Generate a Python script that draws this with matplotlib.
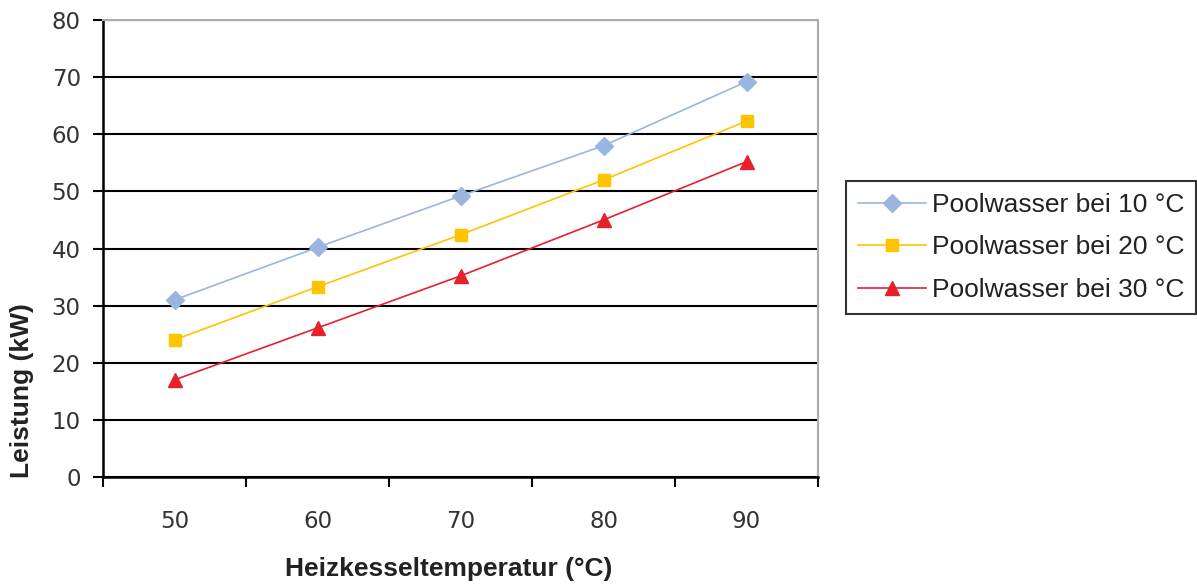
import matplotlib.pyplot as plt
import numpy as np

# data
temperatures = ["50", "60", "70", "80", "90"]
pool_10 = [31.0, 40.2, 49.2, 58.0, 69.2]
pool_20 = [24.0, 33.3, 42.4, 52.0, 62.3]
pool_30 = [17.0, 26.1, 35.2, 45.0, 55.2]
series_labels = ["Poolwasser bei 10 °C", "Poolwasser bei 20 °C", "Poolwasser bei 30 °C"]

plt.rcParams['font.family'] = ['Liberation Sans', 'DejaVu Sans']

fig = plt.figure(figsize=(11.97, 5.85), dpi=100)
ax = fig.add_axes([103 / 1197, 1 - 477 / 585, (818 - 103) / 1197, (477 - 20) / 585])

pos = np.arange(len(temperatures))
ax.plot(pos, pool_10, color='#9AB5DF', lw=1.2, marker='D', ms=9, label=series_labels[0])
ax.plot(pos, pool_20, color='#FFC300', lw=1.2, marker='s', ms=9, label=series_labels[1])
ax.plot(pos, pool_30, color='#E8202A', lw=1.2, marker='^', ms=10, label=series_labels[2])

ax.set_xlim(-0.5, len(temperatures) - 0.5)
ax.set_ylim(0, 80)

# y axis: gridlines in black at every 10
ax.set_yticks(np.arange(0, 81, 10))
ax.yaxis.grid(True, color='black', lw=1.5)
ax.set_axisbelow(True)

# x axis: tick marks between categories, labels centred on categories
ax.set_xticks(np.arange(-0.5, len(temperatures), 1.0))
ax.set_xticklabels([])
ax.set_xticks(pos, minor=True)
ax.set_xticklabels(temperatures, minor=True)
ax.tick_params(axis='x', which='minor', length=0, pad=24)
ax.tick_params(axis='x', which='major', direction='out', length=7, width=1.5)
ax.tick_params(axis='y', direction='out', length=7, width=1.5, pad=9)
ax.tick_params(which='both', labelsize=16.5, labelcolor='#333333')
for lbl in ax.get_xticklabels(minor=True) + ax.get_yticklabels():
    lbl.set_family(['DejaVu Sans'])

for side in ['left', 'bottom']:
    ax.spines[side].set_linewidth(1.8)
    ax.spines[side].set_color('black')
for side in ['top', 'right']:
    ax.spines[side].set_linewidth(1.5)
    ax.spines[side].set_color('#B0AAAA')

ax.set_xlabel("Heizkesseltemperatur (°C)", fontsize=19, fontweight='bold', color='#222222')
ax.xaxis.set_label_coords(0.484, -0.175)
ax.set_ylabel("Leistung (kW)", fontsize=19, fontweight='bold', color='#222222')
ax.yaxis.set_label_coords(-0.097, 0.19)

leg = fig.legend(loc='upper left', bbox_to_anchor=(846 / 1197, 1 - 181 / 585),
                 borderaxespad=0, fontsize=19, frameon=True, fancybox=False,
                 handlelength=2.6, labelspacing=0.7, borderpad=0.45, handletextpad=0.2)
leg.get_frame().set_edgecolor('black')
leg.get_frame().set_linewidth(1.5)
for t in leg.get_texts():
    t.set_color('#222222')

plt.savefig("out.png", dpi=100)
